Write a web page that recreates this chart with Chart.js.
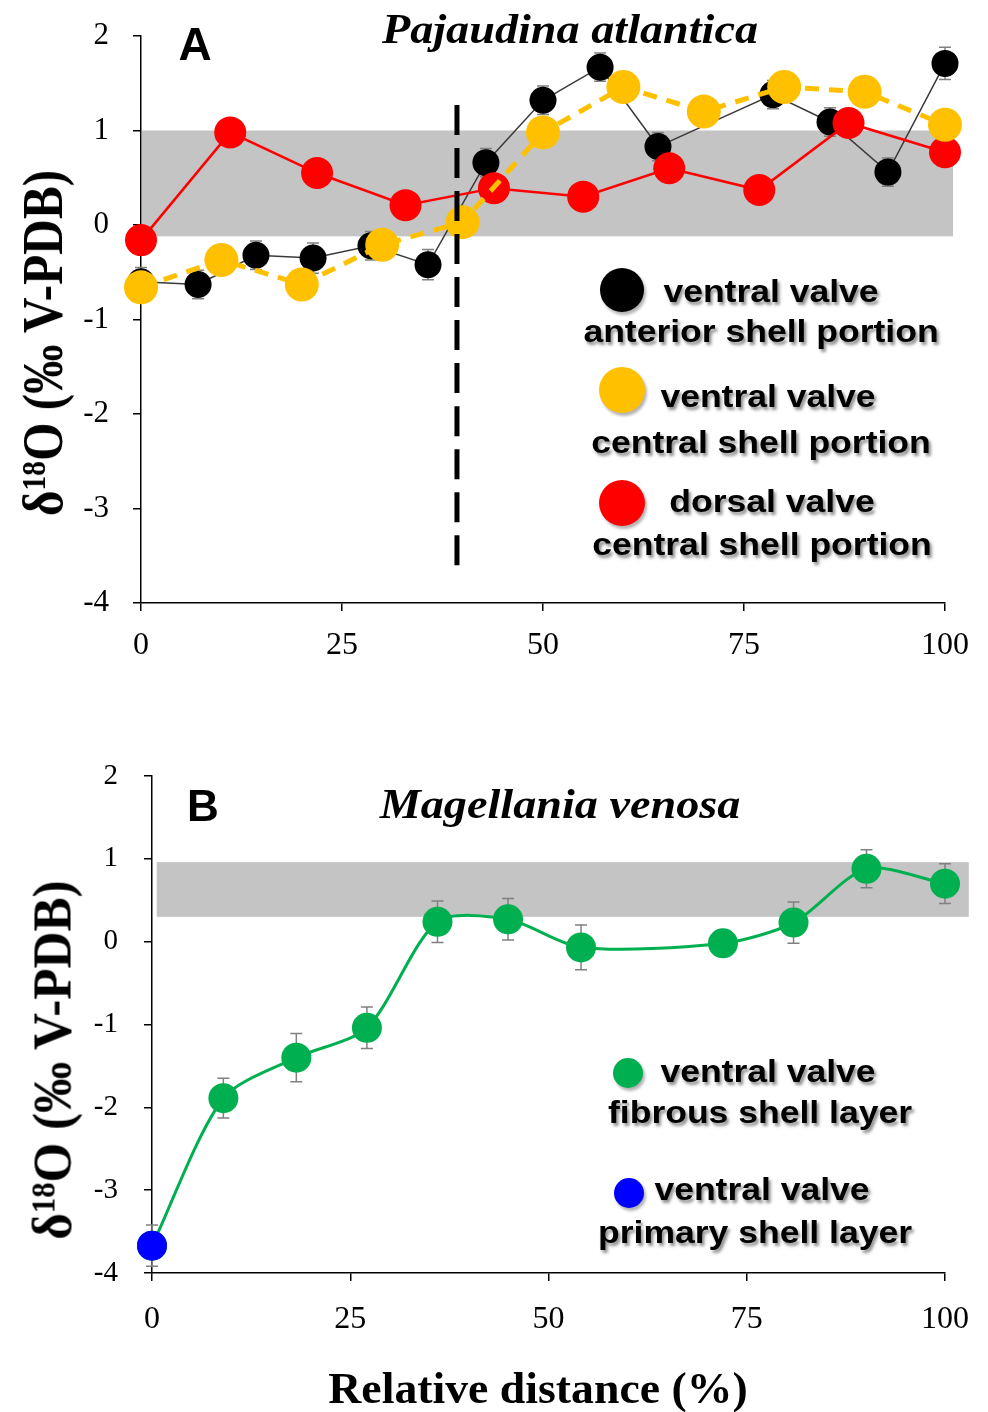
<!DOCTYPE html>
<html><head><meta charset="utf-8">
<script src="https://cdn.jsdelivr.net/npm/chart.js@4.4.1/dist/chart.umd.min.js"></script>
<style>
html,body{margin:0;padding:0;background:#fff;}
#wrap{position:relative;width:988px;height:1412px;overflow:hidden;background:#fff;}
canvas{position:absolute;left:0;}
.t{position:absolute;white-space:nowrap;line-height:1;transform-origin:50% 50%;color:#000;z-index:5;}
.leg{font-family:'Liberation Sans',Arial,sans-serif;font-weight:bold;font-size:32px;text-shadow:2px 3px 3px rgba(0,0,0,0.45);}
.serif{font-family:'Liberation Serif','Times New Roman',serif;font-weight:bold;}
.sans{font-family:'Liberation Sans',Arial,sans-serif;font-weight:bold;}
.dot{position:absolute;border-radius:50%;box-shadow:2px 3px 3px rgba(0,0,0,0.3);z-index:5;}
sup{font-size:0.6em;vertical-align:0.5em;line-height:0;}
</style></head><body>
<div id="wrap">
<canvas id="c1" width="988" height="690" style="top:0"></canvas>
<canvas id="c2" width="988" height="712" style="top:700px"></canvas>
</div>
<script>
// ---------- DATA ----------
// Panel A: Pajaudina atlantica
const blackX = [0, 7.1, 14.3, 21.4, 28.6, 35.7, 42.9, 50, 57.1, 64.3, 78.6, 85.7, 92.9, 100];
const blackY = [-0.60, -0.63, -0.32, -0.35, -0.22, -0.42, 0.66, 1.32, 1.67, 0.83, 1.38, 1.09, 0.56, 1.71];
const blackErr = [0.15, 0.15, 0.15, 0.16, 0.15, 0.16, 0.15, 0.15, 0.15, 0.15, 0.15, 0.15, 0.15, 0.17];
const yellowX = [0, 10, 20, 30, 40, 50, 60, 70, 80, 90, 100];
const yellowY = [-0.66, -0.37, -0.63, -0.21, 0.03, 0.98, 1.46, 1.20, 1.46, 1.41, 1.06];
const redX = [0, 11.1, 21.9, 32.9, 43.9, 55.0, 65.7, 76.9, 88.0, 100];
const redY = [-0.16, 0.98, 0.55, 0.21, 0.39, 0.30, 0.60, 0.37, 1.08, 0.77];
const bandA = [-0.12, 1.0];
const bandAX = [0, 101];
const dividerX = 39.3;
const dividerY = [-3.6, 1.27];
// Panel B: Magellania venosa
const greenX = [0, 9, 18.2, 27.1, 36, 44.9, 54.1, 72, 80.9, 90.1, 100];
const greenY = [-3.67, -1.89, -1.40, -1.04, 0.24, 0.27, -0.07, -0.02, 0.23, 0.88, 0.70];
const greenErr = [0.25, 0.24, 0.29, 0.25, 0.25, 0.25, 0.27, 0.15, 0.25, 0.23, 0.24];
const blueX = [0];
const blueY = [-3.67];
const bandB = [0.30, 0.96];
const bandBX = [0.6, 103];
// Ticks
const xTickVals = [0, 25, 50, 75, 100];
const yTickVals = [-4, -3, -2, -1, 0, 1, 2];

// ---------- HELPERS ----------
const pts = (xs, ys) => xs.map((x, i) => ({x, y: ys[i]}));
const serif = "'Liberation Serif','Times New Roman',serif";

const bandPlugin = (band, xr) => ({
  id: 'band',
  beforeDatasetsDraw(chart) {
    const {ctx, scales: {x, y}, chartArea} = chart;
    ctx.save();
    ctx.fillStyle = '#c4c4c4';
    const x0 = Math.max(x.getPixelForValue(xr[0]), chartArea.left + 1);
    const x1 = x.getPixelForValue(xr[1]);
    const y0 = y.getPixelForValue(band[1]), y1 = y.getPixelForValue(band[0]);
    ctx.fillRect(x0, y0, x1 - x0, y1 - y0);
    ctx.restore();
  }
});
const errPlugin = (sets) => ({
  id: 'errbars',
  beforeDatasetsDraw(chart) {
    const {ctx, scales: {x, y}} = chart;
    ctx.save();
    ctx.strokeStyle = '#808080';
    ctx.lineWidth = 1.5;
    sets.forEach(s => {
      s.xs.forEach((xv, i) => {
        const px = x.getPixelForValue(xv);
        const pt = y.getPixelForValue(s.ys[i] + s.err[i]);
        const pb = y.getPixelForValue(s.ys[i] - s.err[i]);
        ctx.beginPath();
        ctx.moveTo(px, pt); ctx.lineTo(px, pb);
        ctx.moveTo(px - 6, pt); ctx.lineTo(px + 6, pt);
        ctx.moveTo(px - 6, pb); ctx.lineTo(px + 6, pb);
        ctx.stroke();
      });
    });
    ctx.restore();
  }
});
const dividerPlugin = {
  id: 'divider',
  afterDatasetsDraw(chart) {
    const {ctx, scales: {x, y}} = chart;
    const px = x.getPixelForValue(dividerX);
    const yTop = y.getPixelForValue(dividerY[1]);
    const yBot = y.getPixelForValue(dividerY[0]);
    const dash = 30, n = 11;
    const gap = ((yBot - yTop) - n * dash) / (n - 1);
    ctx.save();
    ctx.strokeStyle = '#000';
    ctx.lineWidth = 5;
    ctx.setLineDash([dash, gap]);
    ctx.beginPath();
    ctx.moveTo(px, yTop);
    ctx.lineTo(px, yBot);
    ctx.stroke();
    ctx.restore();
  }
};

function scales(leftWidth, xAxisHeight, yFont, yPad, xPad) {
  const grid = {drawOnChartArea: false, drawTicks: true, tickLength: 8, color: '#000', lineWidth: 1.5};
  const border = {display: true, color: '#000', width: 1.5};
  return {
    x: {
      type: 'linear', min: 0, max: 100,
      afterBuildTicks: s => { s.ticks = xTickVals.map(v => ({value: v})); },
      ticks: {font: {family: serif, size: 32}, color: '#000', padding: xPad, maxRotation: 0, autoSkip: false},
      grid, border,
      afterFit: s => { s.height = xAxisHeight; s.paddingLeft = 0; s.paddingRight = 0; }
    },
    y: {
      type: 'linear', min: -4, max: 2,
      afterBuildTicks: s => { s.ticks = yTickVals.map(v => ({value: v})); },
      ticks: {font: {family: serif, size: yFont}, color: '#000', padding: yPad, autoSkip: false},
      grid, border,
      afterFit: s => { s.width = leftWidth; s.paddingTop = 0; s.paddingBottom = 0; }
    }
  };
}

// ---------- CHART A ----------
new Chart(document.getElementById('c1'), {
  type: 'line',
  data: {
    datasets: [
      {label: 'ventral valve central shell portion', data: pts(yellowX, yellowY), order: 0,
       borderColor: '#FFC000', borderWidth: 5, borderDash: [14, 10], backgroundColor: '#FFC000',
       pointRadius: 17, pointBorderWidth: 0, pointBackgroundColor: '#FFC000', clip: false, tension: 0},
      {label: 'dorsal valve central shell portion', data: pts(redX, redY), order: 1,
       borderColor: '#FF0000', borderWidth: 2.5, backgroundColor: '#FF0000',
       pointRadius: 16, pointBorderWidth: 0, pointBackgroundColor: '#FF0000', clip: false, tension: 0},
      {label: 'ventral valve anterior shell portion', data: pts(blackX, blackY), order: 2,
       borderColor: '#3a3a3a', borderWidth: 1.5, backgroundColor: '#000',
       pointRadius: 13.5, pointBorderWidth: 0, pointBackgroundColor: '#000', clip: false, tension: 0}
    ]
  },
  options: {
    responsive: false, animation: false, devicePixelRatio: 1,
    layout: {padding: {top: 36, right: 43, bottom: 0, left: 0}},
    plugins: {legend: {display: false}, tooltip: {enabled: false}},
    scales: scales(141, 87, 31, 24, 15)
  },
  plugins: [bandPlugin(bandA, bandAX), errPlugin([{xs: blackX, ys: blackY, err: blackErr}]), dividerPlugin]
});

// ---------- CHART B ----------
new Chart(document.getElementById('c2'), {
  type: 'line',
  data: {
    datasets: [
      {label: 'ventral valve primary shell layer', data: pts(blueX, blueY), order: 0,
       showLine: false, backgroundColor: '#0000FF', pointRadius: 15, pointBorderWidth: 0,
       pointBackgroundColor: '#0000FF', clip: false},
      {label: 'ventral valve fibrous shell layer', data: pts(greenX, greenY), order: 1,
       borderColor: '#00B050', borderWidth: 3, backgroundColor: '#00B050',
       pointRadius: 15, pointBorderWidth: 0, pointBackgroundColor: '#00B050', clip: false,
       tension: 0.27}
    ]
  },
  options: {
    responsive: false, animation: false, devicePixelRatio: 1,
    layout: {padding: {top: 76, right: 43, bottom: 0, left: 0}},
    plugins: {legend: {display: false}, tooltip: {enabled: false}},
    scales: scales(152, 139, 29, 26, 19)
  },
  plugins: [bandPlugin(bandB, bandBX), errPlugin([{xs: greenX, ys: greenY, err: greenErr}])]
});

// ---------- TEXT OVERLAYS ----------
const wrap = document.getElementById('wrap');
function txt(html, cx, cy, cls, size, sx, rot, extra) {
  const d = document.createElement('div');
  d.className = 't ' + cls;
  d.innerHTML = html;
  d.style.fontSize = size + 'px';
  d.style.left = cx + 'px';
  d.style.top = cy + 'px';
  d.style.transform = 'translate(-50%,-50%)' + (rot ? ' rotate(' + rot + 'deg)' : '') + ' scaleX(' + (sx || 1) + ')';
  if (extra) Object.assign(d.style, extra);
  wrap.appendChild(d);
}
function dot(color, cx, cy, r) {
  const d = document.createElement('div');
  d.className = 'dot';
  d.style.background = color;
  d.style.width = d.style.height = (2 * r) + 'px';
  d.style.left = (cx - r) + 'px';
  d.style.top = (cy - r) + 'px';
  wrap.appendChild(d);
}
// Panel A
txt('A', 195, 44, 'sans', 46);
txt('Pajaudina atlantica', 570, 29, 'serif', 42, 1.1, 0, {fontStyle: 'italic'});
txt('δ<sup>18</sup>O (‰ V-PDB)', 43, 343, 'serif', 56, 0.88, -90);
dot('#000000', 622, 290, 22);
txt('ventral valve', 771, 291, 'leg', 32, 1.11);
txt('anterior shell portion', 761, 331, 'leg', 32, 1.11);
dot('#FFC000', 622, 390, 23);
txt('ventral valve', 768, 396, 'leg', 32, 1.11);
txt('central shell portion', 761, 442, 'leg', 32, 1.11);
dot('#FF0000', 622, 503, 23);
txt('dorsal valve', 772, 501, 'leg', 32, 1.11);
txt('central shell portion', 762, 544, 'leg', 32, 1.11);
// Panel B
txt('B', 203, 806, 'sans', 44);
txt('Magellania venosa', 560, 804, 'serif', 42, 1.1, 0, {fontStyle: 'italic'});
txt('δ<sup>18</sup>O (‰ V-PDB)', 52, 1060, 'serif', 55, 0.93, -90);
dot('#00B050', 628, 1073, 15);
txt('ventral valve', 768, 1071, 'leg', 32, 1.11);
txt('fibrous shell layer', 760, 1112, 'leg', 32, 1.11);
dot('#0000FF', 629, 1193, 15);
txt('ventral valve', 762, 1189, 'leg', 32, 1.11);
txt('primary shell layer', 755, 1232, 'leg', 32, 1.11);
txt('Relative distance (%)', 538, 1389, 'serif', 44, 1.04);
</script>
</body></html>
